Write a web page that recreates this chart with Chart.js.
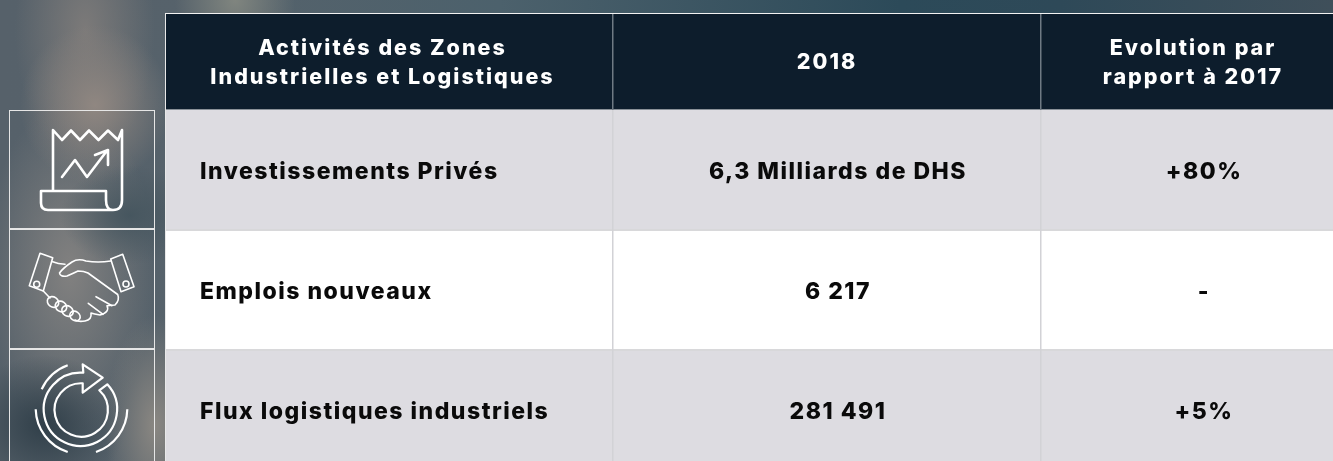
<!DOCTYPE html>
<html lang="fr">
<head>
<meta charset="utf-8">
<title>Activités des Zones Industrielles et Logistiques</title>
<script src="https://cdn.jsdelivr.net/npm/chart.js@4"></script>
<style>
html, body { margin: 0; width: 1333px; height: 461px; overflow: hidden; }
body {
    position: relative;
    background-color: #3f535e;
    background-image:
        radial-gradient(ellipse 50px 110px at 155px 425px, #8a8782 0%, rgba(138,135,130,0) 100%),
        radial-gradient(ellipse 80px 70px at 45px 425px, #303f49 0%, rgba(48,63,73,0) 100%),
        radial-gradient(ellipse 70px 50px at 130px 215px, #46565f 0%, rgba(70,86,95,0) 100%),
        radial-gradient(ellipse 75px 80px at 95px 105px, #908781 0%, rgba(144,135,129,0) 100%),
        radial-gradient(ellipse 85px 170px at 70px 270px, #828180 0%, rgba(130,129,128,0) 100%),
        radial-gradient(ellipse 60px 70px at 235px 0px, #80857f 0%, rgba(128,133,127,0) 100%),
        radial-gradient(ellipse 70px 130px at 85px 30px, #7c7a79 0%, rgba(124,122,121,0) 100%),
        linear-gradient(90deg, #56616a 0px, #56626b 200px, #4c616c 500px, #2c4a59 900px, #2e4958 1060px, #3f4f5a 1333px);
}
.chartBox { position: absolute; }
.iconBox { position: absolute; left: 9px; width: 144px; border: 1px solid #e6e6e6; }
#tableEdge { position: absolute; left: 165px; top: 13px; width: 1168px; height: 448px; border-left: 1px solid #e8e8e8; border-top: 1px solid #f2f2f2; box-sizing: border-box; }
#icons { position: absolute; left: 0; top: 0; }
</style>
</head>
<body>
<div class="iconBox" style="top:110px;height:117px"></div>
<div class="iconBox" style="top:229px;height:118px"></div>
<div class="iconBox" style="top:349px;height:130px"></div>
<svg id="icons" width="160" height="461" fill="none" stroke="#fff" stroke-linecap="round" stroke-linejoin="round">
    <g stroke-width="2.6">
        <path d="M53 191V130L62 140 71 130.5 80 140 89 130.5 98.5 140 108 130.5 118 140 122 130V200Q122 210 113 210H48Q41 210 41 203V191H106V200Q106 210 113 210"/>
        <path d="M62 177L75 160 87 177 106 152M95 155L108 150 108 165"/>
    </g>
    <g stroke-width="1.6">
        <path d="M40 253.3L52.7 257.7 43.3 291 29.3 285.7ZM110.7 259L122.7 254.3 134 286.7 121 291.7Z"/>
        <circle cx="36.7" cy="284.3" r="3"/>
        <circle cx="126" cy="284" r="3"/>
        <path d="M52.7 261.7Q58 264 65 264.3M110.7 261Q98 263 86 261 78 258 72 262 63 268 59.5 273 60 277 67 276 74 273 78 271 84 271 88 273L117.7 294.5Q120 300 115 305L107 305.7Q110 312 100 315 94 314 91 313 92 320 85 321 78 322 75 320"/>
        <path d="M43.3 291L50 298M96 296.7L112 305.7M88.3 303.3L103 314.3"/>
        <ellipse cx="53" cy="302" rx="6" ry="5" transform="rotate(35 53 302)"/>
        <ellipse cx="61" cy="306.5" rx="6" ry="5" transform="rotate(35 61 306.5)"/>
        <ellipse cx="67.5" cy="311" rx="6" ry="5" transform="rotate(35 67.5 311)"/>
        <ellipse cx="75" cy="316" rx="5.5" ry="4.5" transform="rotate(35 75 316)"/>
    </g>
    <g stroke-width="2.2" stroke-linecap="butt">
        <path d="M41.7 389.3A46 46 0 0 1 67.7 365.3M35.7 409.3A46 46 0 0 0 67.7 452M96 452A46 46 0 0 0 127.3 409.3"/>
        <path d="M107.3 384.3A36.7 36.7 0 1 1 83.3 372.7L82.7 364.3 102.7 377.7 82.7 392.7 82.7 383.3A26.7 26.7 0 1 0 99.3 390.3Z"/>
    </g>
</svg>
<div id="tableEdge"></div>
<div class="chartBox" style="left:166px;top:14px;width:1167px;height:96px"><canvas id="headerChart"></canvas></div>
<div class="chartBox" style="left:166px;top:110px;width:1167px;height:360px"><canvas id="bodyChart"></canvas></div>
<script>
// table content
var headerRow = ['En-tête'];
var headerCells = [['Activités des Zones', 'Industrielles et Logistiques'], ['2018'], ['Evolution par', 'rapport à 2017']];
var rowLabels = ['Investissements Privés', 'Emplois nouveaux', 'Flux logistiques industriels'];
var values2018 = ['6,3 Milliards de DHS', '6 217', '281 491'];
var evolution2017 = ['+80%', '-', '+5%'];

// the three columns of the table, as spans of the x axis
var columnSpans = [447, 428, 292];
var tableFont = 'Inter';

function spanTotal() {
    return columnSpans[0] + columnSpans[1] + columnSpans[2];
}

// writes the text in each cell and the rules between cells, from the bar elements
function cellPlugin(getLines, style) {
    return {
        id: 'cellText',
        afterDatasetsDraw: function (chart) {
            var ctx = chart.ctx;
            ctx.save();
            chart.data.datasets.forEach(function (ds, col) {
                var meta = chart.getDatasetMeta(col);
                meta.data.forEach(function (bar, row) {
                    var left = bar.base;
                    var right = bar.x;
                    var top = bar.y - bar.height / 2;
                    var bottom = bar.y + bar.height / 2;
                    if (style.hRule) {
                        ctx.fillStyle = style.hRule;
                        ctx.fillRect(left, bottom - 1, right - left, 2);
                    } else {
                        ctx.fillStyle = style.edge;
                        ctx.fillRect(left, bottom - 1, right - left, 1);
                    }
                    if (col > 0) {
                        ctx.fillStyle = style.vRule;
                        ctx.fillRect(Math.round(left) - 1, top, 1.5, bottom - top);
                    }
                    ctx.font = style.weight + ' ' + style.size + 'px ' + tableFont;
                    ctx.letterSpacing = style.spacing;
                    ctx.fillStyle = style.color;
                    ctx.textBaseline = 'middle';
                    var lines = getLines(col, row);
                    // text in the source sits a little right of the cell middle
                    var x = (left + right) / 2 + style.nudge[col];
                    ctx.textAlign = 'center';
                    if (style.leftFirst && col === 0) {
                        x = left + 34;
                        ctx.textAlign = 'left';
                    }
                    lines.forEach(function (line, i) {
                        var y = bar.y + style.shift + (i - (lines.length - 1) / 2) * style.lineHeight;
                        ctx.fillText(line, x, y);
                    });
                });
            });
            ctx.restore();
        }
    };
}

function tableChart(canvasId, rows, rowColors, plugin) {
    var box = document.getElementById(canvasId).parentNode;
    var ctx = document.getElementById(canvasId).getContext('2d');
    ctx.canvas.width = box.clientWidth;
    ctx.canvas.height = box.clientHeight;
    var datasets = columnSpans.map(function (span) {
        return {
            data: rows.map(function () { return span; }),
            backgroundColor: rowColors,
            barPercentage: 1,
            categoryPercentage: 1
        };
    });
    return new Chart(ctx, {
        type: 'bar',
        data: { labels: rows, datasets: datasets },
        options: {
            indexAxis: 'y',
            responsive: false,
            animation: false,
            layout: { padding: 0 },
            plugins: { legend: { display: false }, tooltip: { enabled: false } },
            scales: {
                x: { stacked: true, display: false, min: 0, max: spanTotal() },
                y: { stacked: true, display: false }
            }
        },
        plugins: [plugin]
    });
}

tableChart('headerChart', headerRow, ['#0d1d2c'], cellPlugin(function (col) {
    return headerCells[col];
}, { weight: 800, size: 21.5, spacing: '2px', color: '#ffffff', lineHeight: 29.5, shift: 1, nudge: [-7, 0, 6], vRule: '#6f7a84', hRule: null, edge: '#8a9198' }));

tableChart('bodyChart', rowLabels, ['#dddce1', '#ffffff', '#dddce1'], cellPlugin(function (col, row) {
    return [[rowLabels, values2018, evolution2017][col][row]];
}, { weight: 800, size: 23, spacing: '1.5px', color: '#0a0a0a', lineHeight: 30, shift: 2.5, nudge: [0, 11, 17], vRule: '#d2d2d6', hRule: '#d8d8da', leftFirst: true }));
</script>
</body>
</html>
